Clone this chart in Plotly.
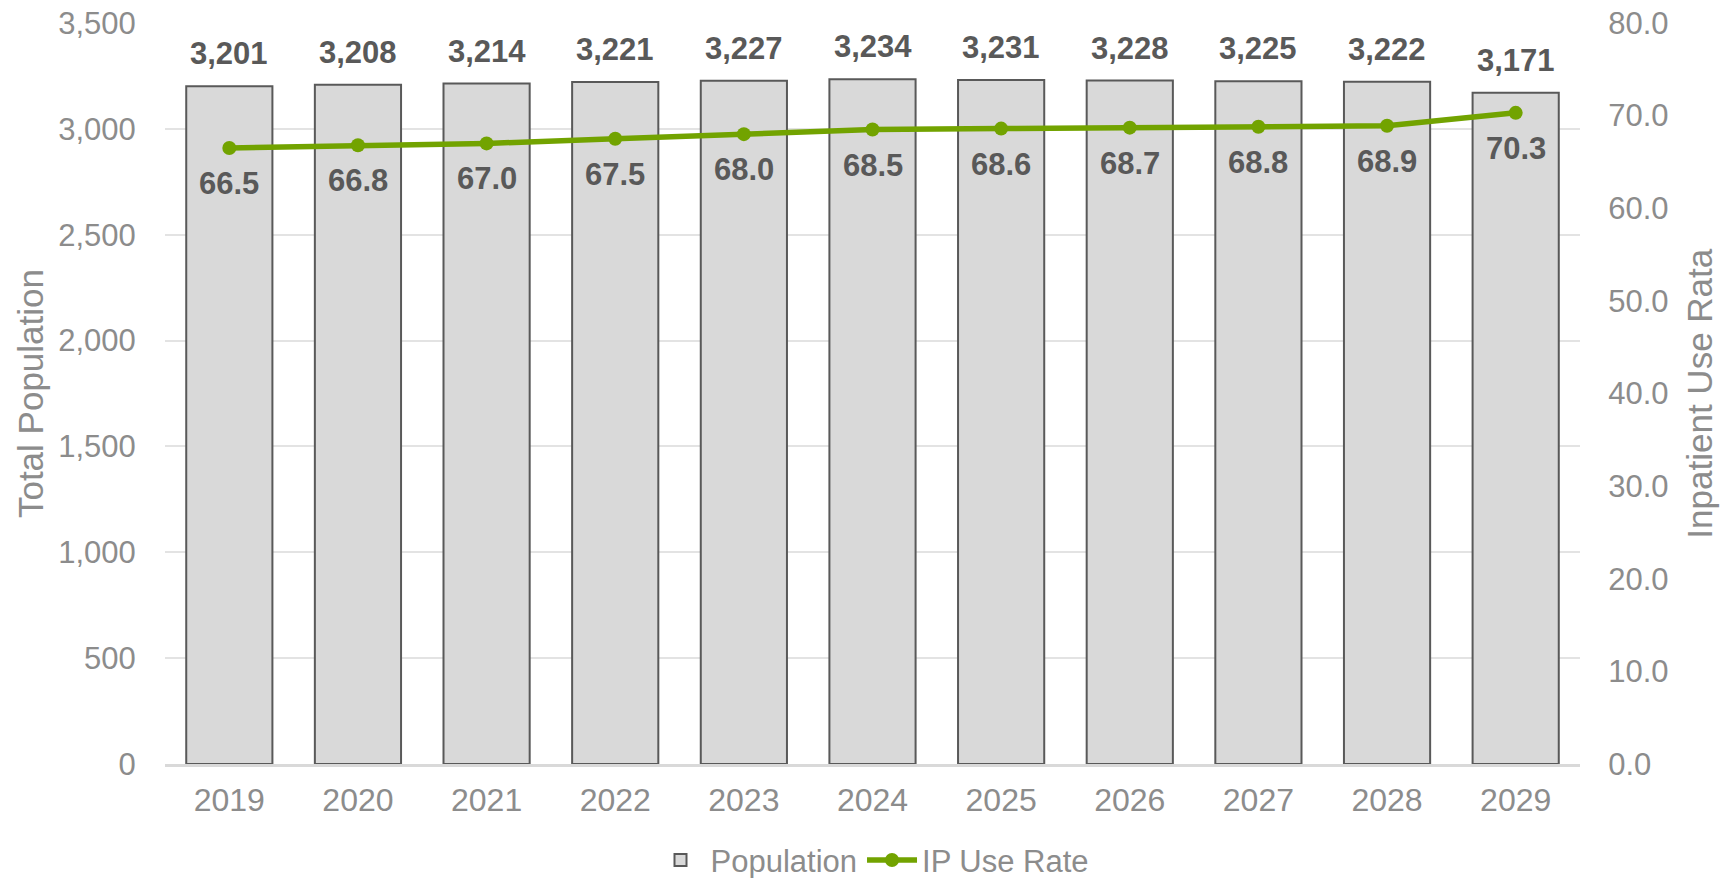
import plotly.graph_objects as go

years = ["2019", "2020", "2021", "2022", "2023", "2024", "2025", "2026", "2027", "2028", "2029"]
population = [3201, 3208, 3214, 3221, 3227, 3234, 3231, 3228, 3225, 3222, 3171]
ip_use_rate = [66.5, 66.8, 67.0, 67.5, 68.0, 68.5, 68.6, 68.7, 68.8, 68.9, 70.3]

FONT = "Liberation Sans, Arial, sans-serif"
GREY_TXT = "#8c8c8c"
LABEL_TXT = "#595959"
GREEN = "#72A300"

fig = go.Figure()

fig.add_trace(go.Bar(
    x=years, y=population, name="Population",
    marker=dict(color="#d9d9d9", line=dict(color="#595959", width=2)),
    yaxis="y",
))

fig.add_trace(go.Scatter(
    x=years, y=ip_use_rate, name="IP Use Rate",
    mode="lines+markers",
    line=dict(color=GREEN, width=5.5),
    marker=dict(color=GREEN, size=14),
    yaxis="y2",
))

# value labels; annotations on a category axis are placed by category index
annotations = []
for i, p in enumerate(population):
    annotations.append(dict(
        x=i, y=p, xref="x", yref="y", text=f"<b>{p:,}</b>",
        showarrow=False, yanchor="bottom", yshift=13,
        font=dict(family=FONT, size=31, color=LABEL_TXT),
    ))
for i, r in enumerate(ip_use_rate):
    annotations.append(dict(
        x=i, y=r, xref="x", yref="y2", text=f"<b>{r:.1f}</b>",
        showarrow=False, yanchor="top", yshift=-16,
        font=dict(family=FONT, size=31, color=LABEL_TXT),
    ))

# axis titles
annotations.append(dict(
    text="Total Population", xref="paper", yref="paper", x=-0.095, y=0.5,
    xanchor="center", yanchor="middle", textangle=-90, showarrow=False,
    font=dict(family=FONT, size=35, color=GREY_TXT),
))
annotations.append(dict(
    text="Inpatient Use Rata", xref="paper", yref="paper", x=1.0842, y=0.5,
    xanchor="center", yanchor="middle", textangle=-90, showarrow=False,
    font=dict(family=FONT, size=35, color=GREY_TXT),
))

fig.update_layout(
    width=1724, height=878,
    margin=dict(l=165, r=144, t=23, b=114, autoexpand=False),
    paper_bgcolor="white", plot_bgcolor="white",
    font=dict(family=FONT, color=GREY_TXT, size=31),
    bargap=0.33,
    showlegend=True,
    legend=dict(orientation="h", x=0.5, xanchor="center", y=-0.13, yanchor="middle",
                font=dict(family=FONT, size=31, color=GREY_TXT),
                itemwidth=50, tracegroupgap=0),
    xaxis=dict(
        type="category", range=[-0.5, len(years) - 0.5],
        showline=True, linecolor="#d9d9d9", linewidth=3,
        ticks="outside", tickcolor="rgba(0,0,0,0)", ticklen=6,
        tickfont=dict(size=32, color=GREY_TXT),
    ),
    yaxis=dict(
        range=[0, 3500], dtick=500, tickformat=",",
        showgrid=True, gridcolor="#e3e3e3", gridwidth=2,
        zeroline=False,
        ticks="outside", tickcolor="rgba(0,0,0,0)", ticklen=22,
        tickfont=dict(size=31, color=GREY_TXT),
    ),
    yaxis2=dict(
        range=[0, 80], dtick=10, tickformat=".1f",
        overlaying="y", side="right", showgrid=False, zeroline=False,
        ticks="outside", tickcolor="rgba(0,0,0,0)", ticklen=21,
        tickfont=dict(size=31, color=GREY_TXT),
    ),
    annotations=annotations,
)

fig.write_html("out.html")
